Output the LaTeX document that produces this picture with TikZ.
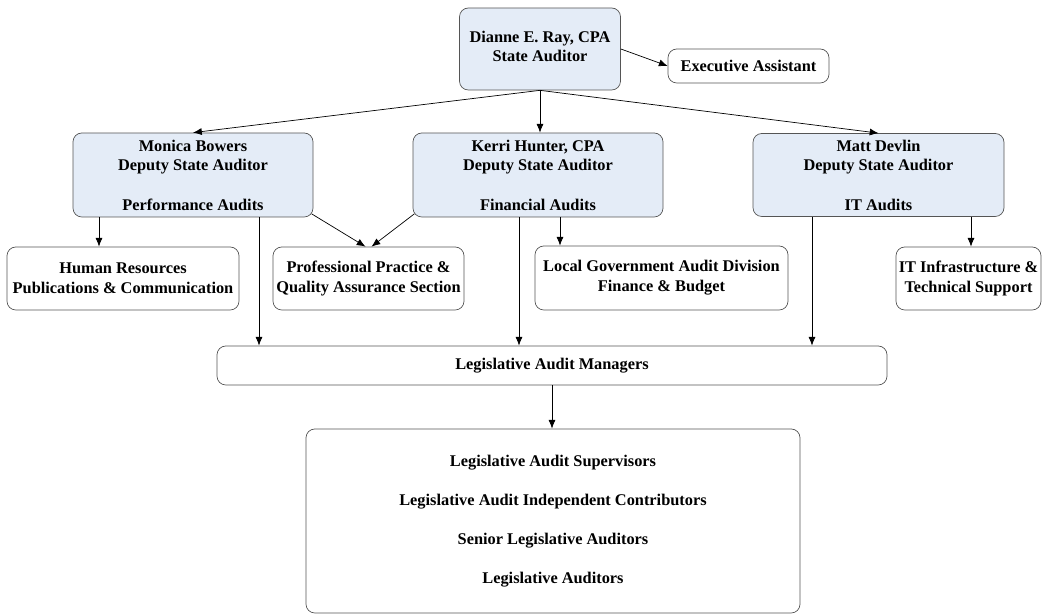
\documentclass[tikz,border=0pt]{standalone}
\usepackage{fontspec}
\setmainfont{Liberation Serif}
\usepackage{xcolor}
\usetikzlibrary{arrows.meta}
\definecolor{boxline}{HTML}{555555}
\definecolor{headfill}{HTML}{E4ECF7}

\begin{document}
\begin{tikzpicture}[>={Latex[length=5pt,width=4pt]},
    unit/.style={draw=boxline,thin,rounded corners=5pt,align=center,inner sep=1pt,
      font=\bfseries\fontsize{9.3}{11.3}\selectfont},
    head/.style={unit,fill=headfill}]
    \useasboundingbox (0,0) rectangle (20.86,12.28);
    % state auditor
    \node[head,minimum width=3.22cm,minimum height=1.64cm,text depth=3pt] (dr) at (10.8,11.3) {Dianne E. Ray, CPA\\State Auditor};
    \node[unit,minimum width=3.22cm,minimum height=0.68cm] (ea) at (14.97,10.96) {Executive Assistant};
    % deputies
    \node[head,minimum width=4.8cm,minimum height=1.68cm] (mb) at (3.86,8.78) {Monica Bowers\\Deputy State Auditor\\[11pt]Performance Audits};
    \node[head,minimum width=5.0cm,minimum height=1.68cm] (kh) at (10.76,8.78) {Kerri Hunter, CPA\\Deputy State Auditor\\[11pt]Financial Audits};
    \node[head,minimum width=5.02cm,minimum height=1.66cm] (md) at (17.57,8.78) {Matt Devlin\\Deputy State Auditor\\[11pt]IT Audits};
    % sections
    \node[unit,minimum width=4.64cm,minimum height=1.26cm] (hr) at (2.46,6.71) {Human Resources\\Publications \& Communication};
    \node[unit,minimum width=3.82cm,minimum height=1.26cm] (pp) at (7.37,6.71) {Professional Practice \&\\Quality Assurance Section};
    \node[unit,minimum width=5.06cm,minimum height=1.28cm] (lg) at (13.23,6.72) {Local Government Audit Division\\Finance \& Budget};
    \node[unit,minimum width=2.9cm,minimum height=1.26cm] (it) at (19.37,6.71) {IT Infrastructure \&\\Technical Support};
    % audit staff
    \node[unit,minimum width=13.4cm,minimum height=0.78cm] (lm) at (11.04,4.97) {Legislative Audit Managers};
    \node[unit,minimum width=9.88cm,minimum height=3.68cm] (ls) at (11.06,1.86) {Legislative Audit Supervisors\\[11pt]Legislative Audit Independent Contributors\\[11pt]Senior Legislative Auditors\\[11pt]Legislative Auditors};
    % connectors
    \draw[->] (dr.east) -- (ea.west);
    \draw[->] (dr.south) -- (mb.north);
    \draw[->] (dr.south) -- (dr.south |- kh.north);
    \draw[->] (dr.south) -- (md.north);
    \draw[->] ([xshift=-1.88cm]mb.south) coordinate (a1) -- (a1 |- hr.north);
    \draw[->] ([xshift=1.32cm]mb.south) coordinate (a2) -- (a2 |- lm.north);
    \draw[->] ([shift={(-1pt,2pt)}]mb.south east) -- ([xshift=-0.06cm]pp.north);
    \draw[->] ([shift={(1pt,2pt)}]kh.south west) -- ([xshift=0.06cm]pp.north);
    \draw[->] ([xshift=-0.38cm]kh.south) coordinate (a3) -- (a3 |- lm.north);
    \draw[->] ([xshift=0.44cm]kh.south) coordinate (a4) -- (a4 |- lg.north);
    \draw[->] ([xshift=-1.33cm]md.south) coordinate (a5) -- (a5 |- lm.north);
    \draw[->] ([xshift=1.85cm]md.south) coordinate (a6) -- (a6 |- it.north);
    \draw[->] (lm.south) -- (lm.south |- ls.north);
\end{tikzpicture}
\end{document}
